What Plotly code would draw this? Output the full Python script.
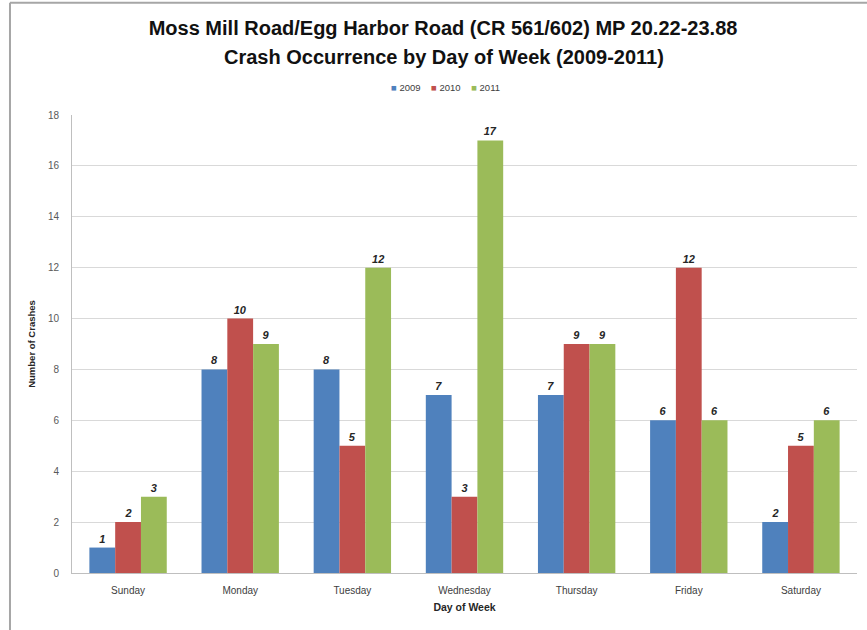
import plotly.graph_objects as go

days = ['Sunday', 'Monday', 'Tuesday', 'Wednesday', 'Thursday', 'Friday', 'Saturday']
y2009 = [1, 8, 8, 7, 7, 6, 2]
y2010 = [2, 10, 5, 3, 9, 12, 5]
y2011 = [3, 9, 12, 17, 9, 6, 6]

series = [('2009', y2009, '#4F81BD'), ('2010', y2010, '#C0504D'), ('2011', y2011, '#9BBB59')]

fig = go.Figure()
for name, vals, color in series:
    fig.add_trace(go.Bar(
        x=days, y=vals, name=name,
        marker=dict(color=color, line=dict(width=0)),
        text=[f'<b><i>{v}</i></b>' for v in vals],
        textposition='outside',
        textfont=dict(size=11, color='#262626'),
        cliponaxis=False
    ))

# compact legend like Excel's: small squares next to the labels
legend_text = '&nbsp;&nbsp;&nbsp;&nbsp;'.join(
    f"<span style='color:{color}'>■</span> {name}" for name, _, color in series
)

fig.update_layout(
    width=867, height=630,
    paper_bgcolor='white',
    plot_bgcolor='white',
    font=dict(family='Arial, sans-serif', color='#404040'),
    title=dict(
        text='<b>Moss Mill Road/Egg Harbor Road (CR 561/602) MP 20.22-23.88</b>',
        x=0.511, xanchor='center', y=0.956, yanchor='middle',
        font=dict(size=20, color='#111111')
    ),
    barmode='group',
    bargap=0.31,
    bargroupgap=0,
    showlegend=False,
    annotations=[
        dict(text='<b>Crash Occurrence by Day of Week (2009-2011)</b>',
             xref='paper', yref='paper', x=0.474, y=1.127,
             xanchor='center', yanchor='middle', showarrow=False,
             font=dict(size=20, color='#111111')),
        dict(text=legend_text, xref='paper', yref='paper', x=0.476, y=1.059,
             xanchor='center', yanchor='middle', showarrow=False,
             font=dict(size=9.5, color='#404040'))
    ],
    xaxis=dict(
        title=dict(text='<b>Day of Week</b>', font=dict(size=10.5, color='#262626'), standoff=8),
        tickfont=dict(size=10, color='#404040'),
        ticklabelstandoff=8,
        showline=True, linecolor='#BFBFBF', linewidth=1,
        ticks='outside', tickcolor='#BFBFBF', ticklen=0
    ),
    yaxis=dict(
        title=dict(text='<b>Number of Crashes</b>', font=dict(size=9.5, color='#262626'), standoff=10),
        range=[0, 18], dtick=2,
        tickfont=dict(size=10, color='#595959'),
        ticklabelstandoff=10,
        showgrid=True, gridcolor='#D9D9D9', gridwidth=1,
        showline=True, linecolor='#BFBFBF', linewidth=1,
        zeroline=False
    ),
    margin=dict(l=72, r=10, t=115, b=57, autoexpand=False)
)

# thin gray frame around the chart
fig.add_shape(type='line', xref='paper', yref='paper', x0=-0.079, x1=1.02, y0=1.245, y1=1.245,
              line=dict(color='#A6A6A6', width=2))
fig.add_shape(type='line', xref='paper', yref='paper', x0=-0.079, x1=-0.079, y0=1.245, y1=-0.125,
              line=dict(color='#A6A6A6', width=2))

fig.write_html('out.html', config={'displayModeBar': False},
               post_script="document.body.style.margin='0px';")
